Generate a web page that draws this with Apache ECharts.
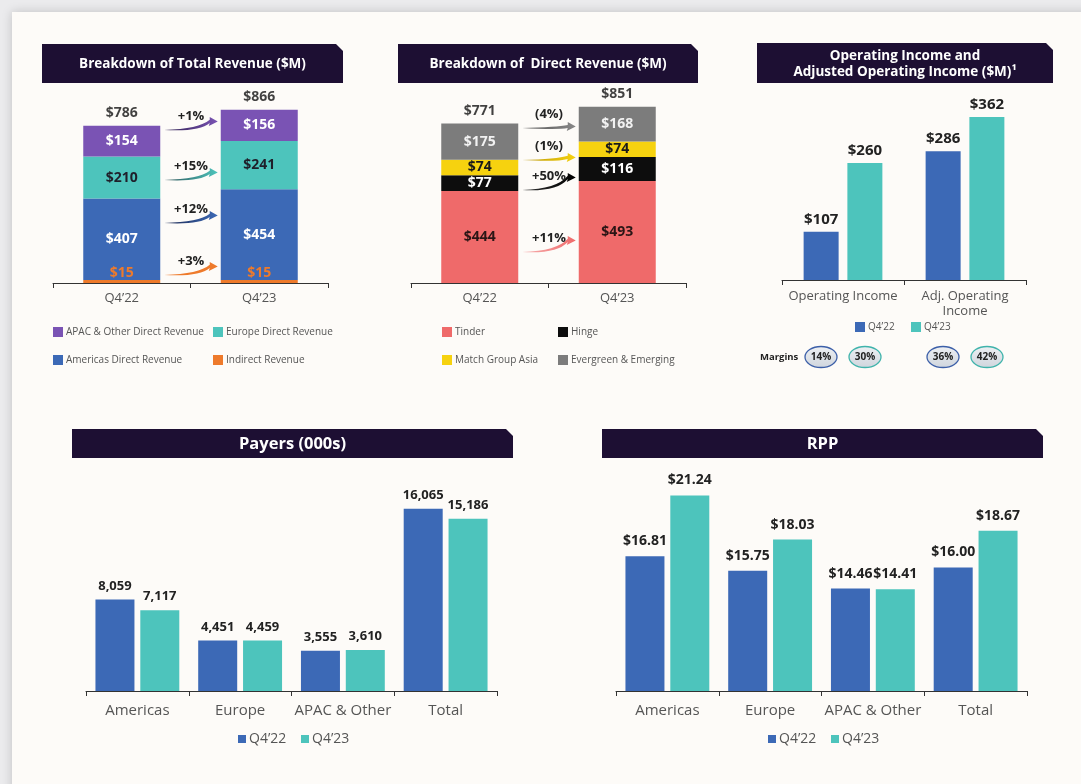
<!DOCTYPE html>
<html>
<head>
<meta charset="utf-8">
<script src="https://cdn.jsdelivr.net/npm/echarts@6/dist/echarts.min.js"></script>
<style>
html, body { margin: 0; padding: 0; background: #ebebed; }
#main { width: 1081px; height: 784px; }
</style>
</head>
<body>
<div id="main"></div>
<script>
// ---- data ----
var quarters = ['Q4’22', 'Q4’23'];

var indirectRev = [15, 15];
var americasRev = [407, 454];
var europeRev = [210, 241];
var apacRev = [154, 156];
var totalRev = [786, 866];
var totalRevGrowth = ['+1%', '+15%', '+12%', '+3%']; // apac, europe, americas, indirect

var tinderRev = [444, 493];
var hingeRev = [77, 116];
var mgaRev = [74, 74];
var evergreenRev = [175, 168];
var directRev = [771, 851];
var directGrowth = ['(4%)', '(1%)', '+50%', '+11%']; // evergreen, mga, hinge, tinder

var incomeCats = ['Operating Income', 'Adj. Operating\nIncome'];
var income22 = [107, 286];
var income23 = [260, 362];
var margins22 = [14, 36];
var margins23 = [30, 42];

var regions = ['Americas', 'Europe', 'APAC & Other', 'Total'];
var payers22 = [8059, 4451, 3555, 16065];
var payers23 = [7117, 4459, 3610, 15186];
var rpp22 = [16.81, 15.75, 14.46, 16.00];
var rpp23 = [21.24, 18.03, 14.41, 18.67];

// ---- layout / style ----
var FONT = '"Open Sans", sans-serif';
var C = {
    blue: '#3c69b6', teal: '#4dc4bc', purple: '#7a53b4', orange: '#ee7a2b',
    salmon: '#ef6a6a', black: '#0d0d0d', yellow: '#f6d20f', gray: '#7c7c7c',
    navy: '#1d0f33', ink: '#1f1f2a'
};
var STACK_W = 77;
// where the growth arrows sit (value units: left end, arrow tip)
var arrowPosTotal = [[765, 810], [515, 555], [300, 340], [40, 85]];
var arrowColTotal = [['#2e2050', C.purple], ['#30555a', C.teal], ['#1c2850', C.blue], [C.orange, C.orange]];
var arrowPosDirect = [[749, 758], [594, 609], [449, 512], [150, 208]];
var arrowColDirect = [['#555', '#888'], ['#b8960a', C.yellow], ['#333', '#000'], ['#f7b0b0', C.salmon]];

var chart = echarts.init(document.getElementById('main'));

function lbl(color, pos, size, fmt, dist) {
    return {
        show: true, position: pos, color: color, fontFamily: FONT, fontWeight: 'bold',
        fontSize: size, distance: dist == null ? 5 : dist, formatter: fmt
    };
}
function dollar(p) { return '$' + p.value; }

function xAx(grid, data, size, margin) {
    return {
        type: 'category', gridIndex: grid, data: data,
        axisLine: { lineStyle: { color: '#333', width: 1 } },
        axisTick: { show: true, length: 5, lineStyle: { color: '#333' } },
        axisLabel: { interval: 0, color: '#555', fontFamily: FONT, fontSize: size, margin: margin, lineHeight: size + 2 }
    };
}
function yAx(grid, min, max) {
    return { type: 'value', gridIndex: grid, min: min, max: max, show: false, splitLine: { show: false } };
}
function leg(name, left, top, size, icon) {
    return {
        data: [name], left: left, top: top, padding: 0, itemGap: 0, selectedMode: false,
        icon: 'rect', itemWidth: icon, itemHeight: icon,
        textStyle: { color: '#555', fontFamily: FONT, fontSize: size, padding: [0, 0, 0, -2] }
    };
}
function titleBar(x1, y1, x2, y2, lines, size, lh) {
    var els = [{
        type: 'polygon',
        shape: { points: [[x1, y1], [x2 - 7, y1], [x2, y1 + 7], [x2, y2], [x1, y2]] },
        style: { fill: C.navy }
    }];
    var cx = (x1 + x2) / 2, cy = (y1 + y2) / 2 + 1;
    var first = cy - (lines.length - 1) * lh / 2;
    lines.forEach(function (t, i) {
        els.push({
            type: 'text',
            style: {
                text: t, x: cx, y: first + i * lh, fill: '#fff',
                font: 'bold ' + size + 'px ' + FONT,
                textAlign: 'center', textVerticalAlign: 'middle', align: 'center', verticalAlign: 'middle'
            }
        });
    });
    return els;
}

function arrowSeries(grid, pos, cols, texts) {
    return {
        type: 'custom', xAxisIndex: grid, yAxisIndex: grid, silent: true, z: 5,
        data: pos.map(function (p) { return [0, p[0], p[1]]; }),
        renderItem: function (params, api) {
            var i = params.dataIndex;
            var p1 = api.coord([0, api.value(1)]);
            var p2 = api.coord([1, api.value(2)]);
            var x1 = p1[0] + STACK_W / 2 + 4, y1 = p1[1];
            var x2 = p2[0] - STACK_W / 2 - 3, y2 = p2[1];
            var cx = x1 + (x2 - x1) * 0.65;
            var d = 'M' + x1 + ' ' + y1 +
                ' Q' + cx + ' ' + (y1 + 2) + ' ' + (x2 - 8) + ' ' + (y2 + 2) +
                ' L' + (x2 - 9) + ' ' + (y2 + 5) +
                ' L' + x2 + ' ' + (y2 + 0.5) +
                ' L' + (x2 - 8) + ' ' + (y2 - 4) +
                ' L' + (x2 - 8) + ' ' + (y2 - 1.2) +
                ' Q' + cx + ' ' + (y1 - 1) + ' ' + x1 + ' ' + y1 + ' Z';
            return {
                type: 'group',
                children: [{
                    type: 'path',
                    shape: { pathData: d },
                    style: {
                        fill: {
                            type: 'linear', x: 0, y: 0, x2: 1, y2: 0,
                            colorStops: [{ offset: 0, color: cols[i][0] }, { offset: 1, color: cols[i][1] }]
                        }
                    }
                }, {
                    type: 'text',
                    style: {
                        text: texts[i], x: (x1 + x2) / 2, y: y1 - 14, fill: '#222',
                        font: 'bold 13px ' + FONT,
                        textAlign: 'center', textVerticalAlign: 'middle', align: 'center', verticalAlign: 'middle'
                    }
                }]
            };
        }
    };
}

function marginSeries(vals, offset, border) {
    return {
        type: 'custom', xAxisIndex: 2, yAxisIndex: 2, silent: true,
        data: vals.map(function (v, i) { return [i, v]; }),
        renderItem: function (params, api) {
            var p = api.coord([api.value(0), 0]);
            var cx = p[0] + offset, cy = p[1] + 77;
            return {
                type: 'group',
                children: [{
                    type: 'ellipse',
                    shape: { cx: cx, cy: cy, rx: 16, ry: 10.5 },
                    style: {
                        fill: {
                            type: 'linear', x: 0, y: 0, x2: 0, y2: 1,
                            colorStops: [{ offset: 0, color: '#eef0f3' }, { offset: 1, color: '#cfd5dd' }]
                        },
                        stroke: border, lineWidth: 1.3
                    }
                }, {
                    type: 'text',
                    style: {
                        text: api.value(1) + '%', x: cx, y: cy + 0.5, fill: '#222',
                        font: 'bold 10px ' + FONT,
                        textAlign: 'center', textVerticalAlign: 'middle', align: 'center', verticalAlign: 'middle'
                    }
                }]
            };
        }
    };
}

function totalSeries(grid, vals) {
    return {
        type: 'scatter', xAxisIndex: grid, yAxisIndex: grid, data: vals, symbolSize: 1, silent: true,
        itemStyle: { color: 'rgba(0,0,0,0)' },
        label: lbl('#111', 'top', 14, dollar, 5), z: 6
    };
}

var graphics = [{
    type: 'rect', shape: { x: 12, y: 12, width: 1100, height: 800 },
    style: { fill: '#fdfbf8', shadowBlur: 10, shadowColor: 'rgba(0,0,0,0.18)' }
}];
graphics = graphics
    .concat(titleBar(42, 44, 343, 83, ['Breakdown of Total Revenue ($M)'], 13.5, 0))
    .concat(titleBar(398, 44, 698, 83, ['Breakdown of  Direct Revenue ($M)'], 13.5, 0))
    .concat(titleBar(757, 43, 1053, 83, ['Operating Income and', 'Adjusted Operating Income ($M)¹'], 13.5, 16))
    .concat(titleBar(72, 429, 513, 458, ['Payers (000s)'], 16.5, 0))
    .concat(titleBar(602, 429, 1043, 458, ['RPP'], 16.5, 0));
graphics.push({
    type: 'text',
    style: {
        text: 'Margins', x: 760, y: 357, fill: '#222', font: 'bold 9.5px ' + FONT,
        textVerticalAlign: 'middle', verticalAlign: 'middle'
    }
});

var option = {
    backgroundColor: '#ebebed',
    animation: false,
    graphic: { elements: graphics },
    grid: [
        { left: 53, top: 83, width: 275, height: 200 },
        { left: 411, top: 76, width: 275, height: 207 },
        { left: 782, top: 100, width: 244, height: 180 },
        { left: 86, top: 464, width: 411, height: 227 },
        { left: 616, top: 485, width: 411, height: 206 }
    ],
    xAxis: [
        xAx(0, quarters, 13, 8),
        xAx(1, quarters, 13, 8),
        xAx(2, incomeCats, 13, 9),
        xAx(3, regions, 15, 11),
        xAx(4, regions, 15, 11)
    ],
    yAxis: [yAx(0, 0, 1000), yAx(1, 0, 1000), yAx(2, 0, 400), yAx(3, 0, 20000), yAx(4, 7, 22)],
    legend: [
        leg('APAC & Other Direct Revenue', 53, 327, 10, 10),
        leg('Europe Direct Revenue', 213, 327, 10, 10),
        leg('Americas Direct Revenue', 53, 355, 10, 10),
        leg('Indirect Revenue', 213, 355, 10, 10),
        leg('Tinder', 442, 327, 10, 10),
        leg('Hinge', 558, 327, 10, 10),
        leg('Match Group Asia', 442, 355, 10, 10),
        leg('Evergreen & Emerging', 558, 355, 10, 10),
        leg('Q4’22', 855, 322, 10, 10),
        leg('Q4’23', 911, 322, 10, 10),
        leg('Q4’22', 238, 732, 14, 8),
        leg('Q4’23', 301, 732, 14, 8),
        leg('Q4’22', 768, 732, 14, 8),
        leg('Q4’23', 831, 732, 14, 8)
    ],
    series: [
        // total revenue
        { name: 'Indirect Revenue', type: 'bar', stack: 'tr', xAxisIndex: 0, yAxisIndex: 0, barWidth: STACK_W,
          data: indirectRev, itemStyle: { color: C.orange }, label: lbl(C.orange, 'top', 14, dollar, 0) },
        { name: 'Americas Direct Revenue', type: 'bar', stack: 'tr', xAxisIndex: 0, yAxisIndex: 0, barWidth: STACK_W,
          data: americasRev, itemStyle: { color: C.blue }, label: lbl('#fff', 'inside', 14, dollar) },
        { name: 'Europe Direct Revenue', type: 'bar', stack: 'tr', xAxisIndex: 0, yAxisIndex: 0, barWidth: STACK_W,
          data: europeRev, itemStyle: { color: C.teal }, label: lbl(C.ink, 'inside', 14, dollar) },
        { name: 'APAC & Other Direct Revenue', type: 'bar', stack: 'tr', xAxisIndex: 0, yAxisIndex: 0, barWidth: STACK_W,
          data: apacRev, itemStyle: { color: C.purple }, label: lbl('#fff', 'inside', 14, dollar) },
        totalSeries(0, totalRev),
        arrowSeries(0, arrowPosTotal, arrowColTotal, totalRevGrowth),

        // direct revenue
        { name: 'Tinder', type: 'bar', stack: 'dr', xAxisIndex: 1, yAxisIndex: 1, barWidth: STACK_W,
          data: tinderRev, itemStyle: { color: C.salmon }, label: lbl('#2a1515', 'inside', 14, dollar) },
        { name: 'Hinge', type: 'bar', stack: 'dr', xAxisIndex: 1, yAxisIndex: 1, barWidth: STACK_W,
          data: hingeRev, itemStyle: { color: C.black }, label: lbl('#fff', 'inside', 14, dollar) },
        { name: 'Match Group Asia', type: 'bar', stack: 'dr', xAxisIndex: 1, yAxisIndex: 1, barWidth: STACK_W,
          data: mgaRev, itemStyle: { color: C.yellow }, label: lbl('#1a1a1a', 'inside', 14, dollar) },
        { name: 'Evergreen & Emerging', type: 'bar', stack: 'dr', xAxisIndex: 1, yAxisIndex: 1, barWidth: STACK_W,
          data: evergreenRev, itemStyle: { color: C.gray }, label: lbl('#f2f2f2', 'inside', 14, dollar) },
        totalSeries(1, directRev),
        arrowSeries(1, arrowPosDirect, arrowColDirect, directGrowth),

        // operating income
        { name: 'Q4’22', type: 'bar', xAxisIndex: 2, yAxisIndex: 2, barWidth: 35, barGap: '25%',
          data: income22, itemStyle: { color: C.blue }, label: lbl('#222', 'top', 15, dollar, 5) },
        { name: 'Q4’23', type: 'bar', xAxisIndex: 2, yAxisIndex: 2, barWidth: 35, barGap: '25%',
          data: income23, itemStyle: { color: C.teal }, label: lbl('#222', 'top', 15, dollar, 5) },
        marginSeries(margins22, -22, '#3c5fa8'),
        marginSeries(margins23, 22, '#3fb3ab'),

        // payers
        { name: 'Q4’22', type: 'bar', xAxisIndex: 3, yAxisIndex: 3, barWidth: 39, barGap: '15%',
          data: payers22, itemStyle: { color: C.blue },
          label: lbl('#222', 'top', 13, function (p) { return p.value.toLocaleString('en-US'); }, 7) },
        { name: 'Q4’23', type: 'bar', xAxisIndex: 3, yAxisIndex: 3, barWidth: 39, barGap: '15%',
          data: payers23, itemStyle: { color: C.teal },
          label: lbl('#222', 'top', 13, function (p) { return p.value.toLocaleString('en-US'); }, 7) },

        // RPP
        { name: 'Q4’22', type: 'bar', xAxisIndex: 4, yAxisIndex: 4, barWidth: 39, barGap: '15%',
          data: rpp22, itemStyle: { color: C.blue },
          label: lbl('#222', 'top', 14, function (p) { return '$' + p.value.toFixed(2); }, 8) },
        { name: 'Q4’23', type: 'bar', xAxisIndex: 4, yAxisIndex: 4, barWidth: 39, barGap: '15%',
          data: rpp23, itemStyle: { color: C.teal },
          label: lbl('#222', 'top', 14, function (p) { return '$' + p.value.toFixed(2); }, 8) }
    ]
};

chart.setOption(option);
</script>
</body>
</html>
